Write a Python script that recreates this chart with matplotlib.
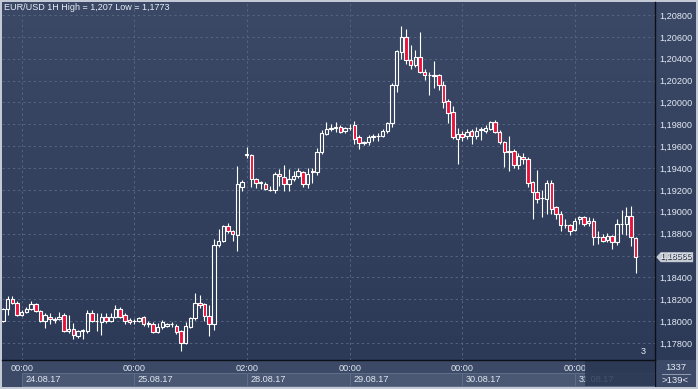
import numpy as np
import pandas as pd
import matplotlib
matplotlib.use("Agg")
import matplotlib.pyplot as plt
from matplotlib.patches import Rectangle, Polygon
from matplotlib.transforms import blended_transform_factory

plt.rcParams['font.family'] = ['Liberation Sans', 'DejaVu Sans']

# ---------------- data ----------------
title = "EUR/USD 1H High = 1,207 Low = 1,1773"
last_price = 1.18585
bottom_counts = ["1337", ">139<"]
bar_count_label = "3"

# trading hours shown for each day: (date, first hour, last hour)
sessions = [("2017-08-23", 20, 23), ("2017-08-24", 0, 23), ("2017-08-25", 0, 23),
            ("2017-08-28", 2, 23), ("2017-08-29", 0, 23), ("2017-08-30", 0, 23),
            ("2017-08-31", 0, 13)]

opens = [1.1800, 1.1811, 1.1820, 1.1817, 1.1806, 1.1808, 1.1811, 1.1816, 1.1809, 1.1800,
         1.1804, 1.1801, 1.1802, 1.1806, 1.1791, 1.1793, 1.1786, 1.1791, 1.1791, 1.1807,
         1.1800, 1.1799, 1.1804, 1.1800, 1.1804, 1.1811, 1.1806, 1.1801, 1.1800, 1.1800,
         1.1804, 1.1797, 1.1797, 1.1790, 1.1795, 1.1796, 1.1797, 1.1796, 1.1791, 1.1780,
         1.1795, 1.1803, 1.1817, 1.1816, 1.1805, 1.1797, 1.1870, 1.1873, 1.1887, 1.1882,
         1.1879, 1.1923, 1.1952, 1.1952, 1.1930, 1.1927, 1.1925, 1.1920, 1.1920, 1.1935,
         1.1932, 1.1925, 1.1930, 1.1933, 1.1936, 1.1925, 1.1936, 1.1936, 1.1955, 1.1971,
         1.1976, 1.1977, 1.1978, 1.1974, 1.1977, 1.1979, 1.1968, 1.1963, 1.1964, 1.1968,
         1.1969, 1.1969, 1.1974, 1.1981, 1.2016, 1.2046, 1.2060, 1.2039, 1.2034, 1.2042,
         1.2028, 1.2025, 1.2025, 1.2025, 1.2016, 1.2001, 1.1991, 1.1967, 1.1971, 1.1969,
         1.1974, 1.1969, 1.1975, 1.1974, 1.1976, 1.1982, 1.1973, 1.1964, 1.1955, 1.1956,
         1.1943, 1.1950, 1.1948, 1.1927, 1.1918, 1.1913, 1.1912, 1.1926, 1.1904, 1.1898,
         1.1888, 1.1888, 1.1883, 1.1893, 1.1895, 1.1890, 1.1892, 1.1877, 1.1877, 1.1874,
         1.1878, 1.1872, 1.1889, 1.1889, 1.1896, 1.1876]
closes = [1.1811, 1.1820, 1.1817, 1.1806, 1.1808, 1.1811, 1.1816, 1.1809, 1.1800, 1.1806,
          1.1802, 1.1802, 1.1804, 1.1791, 1.1793, 1.1787, 1.1791, 1.1792, 1.1807, 1.1800,
          1.1800, 1.1804, 1.1800, 1.1804, 1.1811, 1.1804, 1.1800, 1.1799, 1.1800, 1.1803,
          1.1797, 1.1798, 1.1790, 1.1795, 1.1799, 1.1797, 1.1797, 1.1790, 1.1780, 1.1796,
          1.1803, 1.1817, 1.1815, 1.1805, 1.1797, 1.1870, 1.1873, 1.1887, 1.1882, 1.1880,
          1.1925, 1.1927, 1.1953, 1.1930, 1.1926, 1.1926, 1.1921, 1.1920, 1.1935, 1.1933,
          1.1925, 1.1930, 1.1933, 1.1937, 1.1925, 1.1935, 1.1937, 1.1955, 1.1972, 1.1976,
          1.1977, 1.1978, 1.1973, 1.1977, 1.1977, 1.1967, 1.1963, 1.1964, 1.1968, 1.1969,
          1.1969, 1.1974, 1.1981, 1.2016, 1.2047, 1.2060, 1.2039, 1.2034, 1.2042, 1.2028,
          1.2025, 1.2025, 1.2024, 1.2016, 1.2000, 1.1990, 1.1968, 1.1971, 1.1968, 1.1973,
          1.1969, 1.1974, 1.1976, 1.1977, 1.1982, 1.1973, 1.1964, 1.1955, 1.1956, 1.1943,
          1.1951, 1.1948, 1.1926, 1.1918, 1.1912, 1.1913, 1.1926, 1.1903, 1.1898, 1.1888,
          1.1888, 1.1882, 1.1892, 1.1895, 1.1889, 1.1892, 1.1877, 1.1877, 1.1873, 1.1878,
          1.1872, 1.1889, 1.1889, 1.1896, 1.1877, 1.18585]
highs = [1.1812, 1.1823, 1.1823, 1.1818, 1.1810, 1.1813, 1.1818, 1.1817, 1.1810, 1.1807,
         1.1807, 1.1804, 1.1808, 1.1807, 1.1806, 1.1798, 1.1792, 1.1793, 1.1810, 1.1810,
         1.1807, 1.1807, 1.1807, 1.1807, 1.1815, 1.1813, 1.1807, 1.1803, 1.1802, 1.1804,
         1.1805, 1.1800, 1.1799, 1.1798, 1.1801, 1.1798, 1.1799, 1.1797, 1.1792, 1.1799,
         1.1804, 1.1826, 1.1824, 1.1817, 1.1815, 1.1875, 1.1884, 1.1888, 1.1890, 1.1883,
         1.1942, 1.1929, 1.1959, 1.1953, 1.1931, 1.1928, 1.1927, 1.1924, 1.1936, 1.1939,
         1.1943, 1.1939, 1.1937, 1.1940, 1.1937, 1.1940, 1.1940, 1.1958, 1.1975, 1.1982,
         1.1980, 1.1982, 1.1979, 1.1978, 1.1980, 1.1983, 1.1970, 1.1965, 1.1970, 1.1971,
         1.1972, 1.1976, 1.1982, 1.2018, 1.2048, 1.2070, 1.2067, 1.2053, 1.2048, 1.2064,
         1.2031, 1.2028, 1.2038, 1.2026, 1.2020, 1.2003, 1.1997, 1.1977, 1.1974, 1.1976,
         1.1976, 1.1978, 1.1978, 1.1979, 1.1983, 1.1984, 1.1975, 1.1965, 1.1969, 1.1957,
         1.1954, 1.1954, 1.1950, 1.1928, 1.1938, 1.1920, 1.1929, 1.1929, 1.1905, 1.1901,
         1.1893, 1.1889, 1.1894, 1.1896, 1.1896, 1.1895, 1.1894, 1.1882, 1.1880, 1.1881,
         1.1879, 1.1893, 1.1902, 1.1904, 1.1905, 1.1877]
lows = [1.1799, 1.1806, 1.1816, 1.1805, 1.1805, 1.1807, 1.1810, 1.1808, 1.1799, 1.1794,
        1.1797, 1.1798, 1.1801, 1.1790, 1.1789, 1.1784, 1.1785, 1.1784, 1.1789, 1.1799,
        1.1791, 1.1787, 1.1798, 1.1799, 1.1803, 1.1803, 1.1797, 1.1797, 1.1797, 1.1799,
        1.1796, 1.1795, 1.1789, 1.1789, 1.1793, 1.1795, 1.1795, 1.1788, 1.1773, 1.1779,
        1.1794, 1.1801, 1.1812, 1.1800, 1.1786, 1.1792, 1.1868, 1.1872, 1.1881, 1.1873,
        1.1864, 1.1919, 1.1949, 1.1923, 1.1922, 1.1921, 1.1920, 1.1919, 1.1917, 1.1924,
        1.1919, 1.1919, 1.1928, 1.1931, 1.1923, 1.1922, 1.1926, 1.1934, 1.1953, 1.1970,
        1.1974, 1.1973, 1.1972, 1.1972, 1.1975, 1.1962, 1.1957, 1.1961, 1.1961, 1.1965,
        1.1965, 1.1968, 1.1972, 1.1978, 1.2010, 1.2040, 1.2035, 1.2031, 1.2032, 1.2027,
        1.2021, 1.2007, 1.2013, 1.2011, 1.1995, 1.1981, 1.1967, 1.1944, 1.1965, 1.1967,
        1.1962, 1.1967, 1.1966, 1.1972, 1.1975, 1.1972, 1.1962, 1.1941, 1.1937, 1.1940,
        1.1939, 1.1944, 1.1923, 1.1893, 1.1908, 1.1895, 1.1898, 1.1898, 1.1893, 1.1882,
        1.1885, 1.1879, 1.1882, 1.1889, 1.1887, 1.1887, 1.1870, 1.1871, 1.1872, 1.1872,
        1.1866, 1.1870, 1.1880, 1.1879, 1.1869, 1.1844]

price_levels = [1.178, 1.180, 1.182, 1.184, 1.186, 1.188, 1.190, 1.192, 1.194, 1.196,
                1.198, 1.200, 1.202, 1.204, 1.206, 1.208]

# ---------------- build time index ----------------
times = []
for d, h0, h1 in sessions:
    for h in range(h0, h1 + 1):
        times.append(pd.Timestamp(d) + pd.Timedelta(hours=h))
times = pd.DatetimeIndex(times)
n = len(opens)
idx = np.arange(n)
day_starts = [i for i in range(1, n) if times[i].date() != times[i - 1].date()]

O = np.array(opens); C = np.array(closes); H = np.array(highs); L = np.array(lows)

# ---------------- figure ----------------
W, Hh = 698, 389
fig = plt.figure(figsize=(W / 100, Hh / 100), dpi=100, facecolor='#c3cad5')

def rect(x0, y0, x1, y1):
    return [x0 / W, 1 - y1 / Hh, (x1 - x0) / W, (y1 - y0) / Hh]

top_col = np.array([0x3b, 0x49, 0x67]) / 255
bot_col = np.array([0x2c, 0x3a, 0x58]) / 255
grad = np.linspace(0, 1, 256)[:, None, None]
grad_img = top_col[None, None, :] * (1 - grad) + bot_col[None, None, :] * grad

px_per_bar = 4.686
x_left = (2 - 3) / px_per_bar
x_right = (655 - 3) / px_per_bar
p_per_px = 0.002 / 21.87
y_top = 1.208 + (15 - 2) * p_per_px
y_bot = 1.178 - (360 - 343) * p_per_px

ax = fig.add_axes(rect(2, 2, 655, 360))
panel = fig.add_axes(rect(655, 2, 696, 360), sharey=ax)
strip = fig.add_axes(rect(2, 360, 655, 387), sharex=ax)
corner = fig.add_axes(rect(655, 360, 696, 387))
panel.set_zorder(0); strip.set_zorder(0); corner.set_zorder(0); ax.set_zorder(2)

for a in (ax, panel):
    a.imshow(grad_img, extent=[0, 1, 0, 1], transform=a.transAxes, aspect='auto',
             zorder=0, interpolation='bilinear')

ax.set_xlim(x_left, x_right)
ax.set_ylim(y_bot, y_top)

# gridlines
grid_c = '#56637f'
for p in price_levels:
    ax.axhline(p, color=grid_c, lw=0.75, ls=(0, (2.2, 2.8)), zorder=1)
for i in day_starts:
    ax.axvline(i, color=grid_c, lw=0.75, ls=(0, (2.2, 2.8)), zorder=1)

# candles
up = C >= O
body_lo = np.minimum(O, C)
body_hi = np.maximum(O, C)
ax.vlines(idx, body_hi, H, color='white', lw=0.8, zorder=3)
ax.vlines(idx, L, body_lo, color='white', lw=0.8, zorder=3)
bw = 0.74
ax.bar(idx[~up], (body_hi - body_lo)[~up], bottom=body_lo[~up], width=bw,
       facecolor='#ea123c', edgecolor='none', zorder=4)
ax.bar(idx, (body_hi - body_lo), bottom=body_lo, width=bw,
       facecolor='none', edgecolor='white', linewidth=0.8, zorder=5)

# price axis labels (on the right)
ax.yaxis.tick_right()
ax.set_yticks(price_levels)
ax.set_yticklabels([f"{p:.5f}".replace('.', ',') for p in price_levels])
ax.tick_params(axis='y', length=0, pad=3.2, labelsize=6.6, labelcolor='#e4eaf3')
ax.tick_params(axis='x', length=0, labelbottom=False)
for s in ('top', 'left'):
    ax.spines[s].set_visible(False)
ax.spines['right'].set_color('#0b0f18'); ax.spines['right'].set_linewidth(1.0)
ax.spines['bottom'].set_color('#0b0f18'); ax.spines['bottom'].set_linewidth(1.0)

ax.text(0.985, 0.012, bar_count_label, transform=ax.transAxes, ha='right', va='bottom',
        color='#e8edf5', fontsize=6.6, zorder=6)

# panel
panel.set_xlim(0, 1)
panel.axis('off')
bt = blended_transform_factory(panel.transAxes, panel.transData)
hh = 5 * p_per_px
tag = Polygon([(0.03, last_price), (0.14, last_price + hh), (0.93, last_price + hh),
               (0.93, last_price - hh), (0.14, last_price - hh)], closed=True,
              transform=bt, facecolor='#c6cbd4', edgecolor='none', zorder=5)
panel.add_patch(tag)
panel.text(0.53, last_price, f"{last_price:.5f}".replace('.', ','), transform=bt,
           ha='center', va='center', fontsize=6.4, color='#1e2636', zorder=6)

# time strip
strip.set_facecolor('#3d4a67')
strip.set_ylim(0, 1)
strip.tick_params(length=0, labelbottom=False, labelleft=False)
for s in strip.spines.values():
    s.set_visible(False)
sbt = blended_transform_factory(strip.transData, strip.transAxes)
bounds = day_starts + [x_right + 1]
for k, i in enumerate(day_starts):
    x1 = bounds[k + 1]
    strip.add_patch(Rectangle((i, 0.04), x1 - i, 0.48, transform=sbt,
                              facecolor='#4b5874', edgecolor='#5f6c88', lw=0.75, zorder=1))
    strip.text(i, 0.70, times[i].strftime("%H:%M"), transform=sbt, ha='center', va='center',
               fontsize=6.6, color='#dfe6f0', zorder=2)
    strip.text(i + 0.8, 0.27, times[i].strftime("%d.%m.%y"), transform=sbt, ha='left',
               va='center', fontsize=6.6, color='#dfe6f0', zorder=2)
strip.add_patch(Rectangle(((585 - 3) / px_per_bar, 0.04), x_right, 0.96, transform=sbt,
                          facecolor='#2b3854', edgecolor='none', alpha=0.85, zorder=3))

# corner box
corner.set_xlim(0, 1); corner.set_ylim(0, 1)
corner.set_facecolor('#3d4a67')
corner.tick_params(length=0, labelbottom=False, labelleft=False)
for s in corner.spines.values():
    s.set_visible(False)
corner.axvline(0, color='#0b0f18', lw=1.0)
corner.text(0.5, 0.73, bottom_counts[0], ha='center', va='center', fontsize=6.8, color='#e4eaf3')
corner.plot([0.18, 0.85], [0.48, 0.48], color='#8f9ab0', lw=0.75)
corner.text(0.5, 0.24, bottom_counts[1], ha='center', va='center', fontsize=6.8, color='#e4eaf3')

fig.text(4 / W, 1 - 8 / Hh, title, ha='left', va='center', fontsize=6.5, color='#e8edf5')

fig.savefig("out.png", dpi=100, facecolor=fig.get_facecolor())
